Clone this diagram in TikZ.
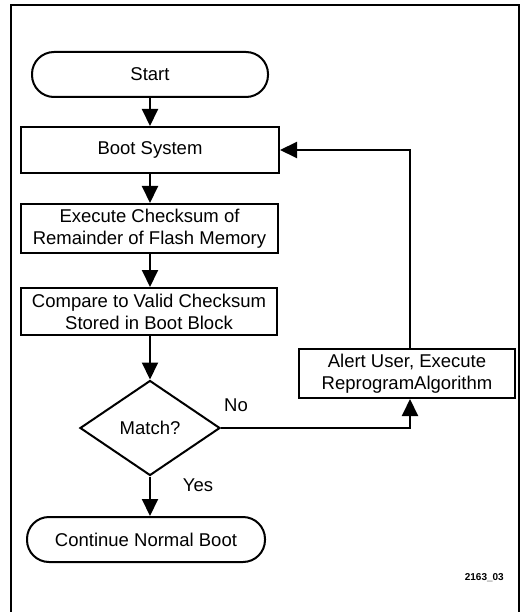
\documentclass[tikz,border=0pt]{standalone}
\usepackage{fontspec}
\setmainfont{Liberation Sans}
\usetikzlibrary{arrows.meta,shapes.geometric}
\begin{document}
\begin{tikzpicture}[x=1pt,y=-1pt,
  every node/.style={font=\fontsize{18.5}{22}\selectfont, inner sep=0pt, align=center},
  line/.style={line width=2pt},
  flow/.style={line, -{Triangle[length=17pt,width=16pt]}},
  box/.style={draw, line width=2pt, rectangle},
  term/.style={draw, line width=2pt, rectangle, rounded corners=22pt},
  decision/.style={draw, line width=2pt, diamond, aspect=1.47, minimum width=140pt, minimum height=95pt},
  lbl/.style={font=\fontsize{18.5}{22}\selectfont}]
\useasboundingbox (0,0) rectangle (521,612);
% frame
\draw[line width=1.6pt] (11,613) -- (11,5) -- (519,5) -- (519,613);

% main column
\node[term, minimum width=236pt, minimum height=45pt] (start) at (150,74.5) {Start};
\node[box, minimum width=258pt, minimum height=46pt] (boot) at (150,150) {Boot System};
\node[box, minimum width=257pt, minimum height=49pt] (exec) at (149.5,228.5) {Execute Checksum of\\Remainder of Flash Memory};
\node[box, minimum width=256pt, minimum height=47pt] (cmp) at (149,311.5) {Compare to Valid Checksum\\Stored in Boot Block};
\node[decision] (match) at (150,428) {Match?};
\node[term, minimum width=238pt, minimum height=45pt] (cont) at (146,539.5) {Continue Normal Boot};

% recovery branch
\node[box, minimum width=216pt, minimum height=49pt] (alert) at (407,373.5) {Alert User, Execute\\ReprogramAlgorithm};
\coordinate (nocorner) at (410,428);
\coordinate (upcorner) at (410,150);

\draw[flow] (start.south -| match.north) -- (boot.north -| match.north);
\draw[flow] (boot.south -| match.north) -- (exec.north -| match.north);
\draw[flow] (exec.south -| match.north) -- (cmp.north -| match.north);
\draw[flow] (cmp.south -| match.north) -- (match.north);
\draw[flow] (match.south) -- (cont.north -| match.south);
\draw[flow] (match.east) -- (nocorner) -- (alert.south -| nocorner);
\draw[flow] (alert.north -| upcorner) -- (upcorner) -- (boot.east);

\node[lbl] (no) at (236,405) {No};
\node[lbl] (yes) at (198,485) {Yes};
\node[font=\fontsize{10}{12}\selectfont\bfseries, anchor=east] (fig) at (504,578) {2163\_03};
\end{tikzpicture}
\end{document}
